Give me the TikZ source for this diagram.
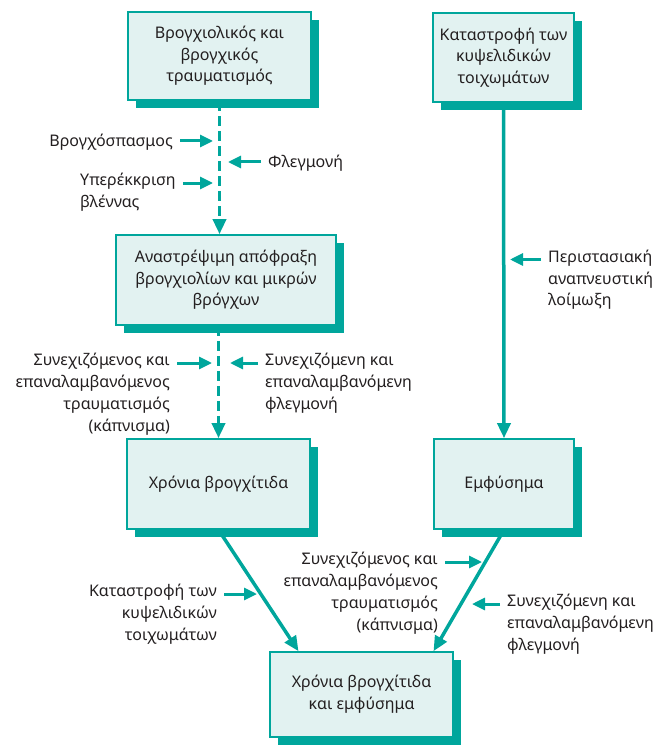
\documentclass[tikz,border=0pt]{standalone}
\usepackage{fontspec}
\setmainfont{Noto Sans}
\usetikzlibrary{arrows.meta,shadows}
\definecolor{tealA}{RGB}{0,166,156}
\definecolor{boxbg}{RGB}{226,242,241}
\definecolor{txt}{RGB}{35,31,32}

\begin{document}
\begin{tikzpicture}[
  x=1pt,y=-1pt,
  font=\fontsize{16}{21.7}\selectfont,text=txt,
  blk/.style={draw=tealA,line width=1.6pt,fill=boxbg,align=center,inner sep=0pt,
    general shadow={fill=tealA,shadow xshift=8pt,shadow yshift=-8pt}},
  ar/.style={-{Triangle[length=15pt,width=13pt]},draw=tealA,line width=3.5pt},
  dar/.style={ar,dash pattern=on 10pt off 5pt},
  sar/.style={-{Triangle[length=13pt,width=12pt]},draw=tealA,line width=3pt,shorten <=7pt},
  lbl/.style={inner sep=0pt,execute at begin node=\strut}
]
\useasboundingbox (0,0) rectangle (670,746);
\node[blk,minimum width=183pt,minimum height=88pt] (bronch) at (219.5,56)  {Βρογχιολικός και\\βρογχικός\\τραυματισμός};
\node[blk,minimum width=141pt,minimum height=89pt] (alv)    at (503.5,57.5){Καταστροφή των\\κυψελιδικών\\τοιχωμάτων};
\node[blk,minimum width=220pt,minimum height=90pt] (obstr)  at (226,280)   {Αναστρέψιμη απόφραξη\\βρογχιολίων και μικρών\\βρόγχων};
\node[blk,minimum width=183pt,minimum height=90pt] (chron)  at (218.5,484) {Χρόνια βρογχίτιδα};
\node[blk,minimum width=140pt,minimum height=90pt] (emph)   at (504,484)   {Εμφύσημα};
\node[blk,minimum width=183pt,minimum height=85pt] (copd)   at (361.5,694.5){Χρόνια βρογχίτιδα\\και εμφύσημα};
\coordinate (tspasm)  at (213,141);
\coordinate (tinfl)   at (228,162);
\coordinate (tmucus)  at (213,183);
\coordinate (tsmokeA) at (212,363);
\coordinate (tinflA)  at (230,363);
\coordinate (tinfect) at (510,259.5);
\coordinate (talv)    at (257,594);
\coordinate (tsmokeB) at (482,562);
\coordinate (tinflB)  at (472,604);
\node[lbl,anchor=north east] (spasm) at (173,131.3) {Βρογχόσπασμος};
\node[lbl,anchor=north west] (infl)  at (268,152.3) {Φλεγμονή};
\node[lbl,anchor=north west,align=left]  (mucus)   at (80,173.3)  {Υπερέκκριση\\βλέννας};
\node[lbl,anchor=north east,align=right] (smokeA)  at (170,353.3) {Συνεχιζόμενος και\\επαναλαμβανόμενος\\τραυματισμός\\(κάπνισμα)};
\node[lbl,anchor=north west,align=left]  (inflA)   at (265,353.3) {Συνεχιζόμενη και\\επαναλαμβανόμενη\\φλεγμονή};
\node[lbl,anchor=north west,align=left]  (infect)  at (548,249.8) {Περιστασιακή\\αναπνευστική\\λοίμωξη};
\node[lbl,anchor=north east,align=right] (alvdest) at (217,584.3) {Καταστροφή των\\κυψελιδικών\\τοιχωμάτων};
\node[lbl,anchor=north east,align=right] (smokeB)  at (438,552.3) {Συνεχιζόμενος και\\επαναλαμβανόμενος\\τραυματισμός\\(κάπνισμα)};
\node[lbl,anchor=north west,align=left]  (inflB)   at (507,594.3) {Συνεχιζόμενη και\\επαναλαμβανόμενη\\φλεγμονή};
\draw[dar] (bronch.south) -- (bronch.south |- obstr.north);
\draw[dar] (chron.north |- obstr.south) -- (chron.north);
\draw[ar]  (alv.south) -- (emph.north);
\draw[ar]  (chron.south) -- ([xshift=-63pt]copd.north);
\draw[ar]  (emph.south) -- ([xshift=72pt]copd.north);
\draw[sar] (spasm.east |- tspasm) -- (tspasm);
\draw[sar] (infl.west |- tinfl) -- (tinfl);
\draw[sar] (mucus.east |- tmucus) -- (tmucus);
\draw[sar] (smokeA.east |- tsmokeA) -- (tsmokeA);
\draw[sar] (inflA.west |- tinflA) -- (tinflA);
\draw[sar] (infect.west |- tinfect) -- (tinfect);
\draw[sar] (alvdest.east |- talv) -- (talv);
\draw[sar] (smokeB.east |- tsmokeB) -- (tsmokeB);
\draw[sar] (inflB.west |- tinflB) -- (tinflB);
\end{tikzpicture}
\end{document}
